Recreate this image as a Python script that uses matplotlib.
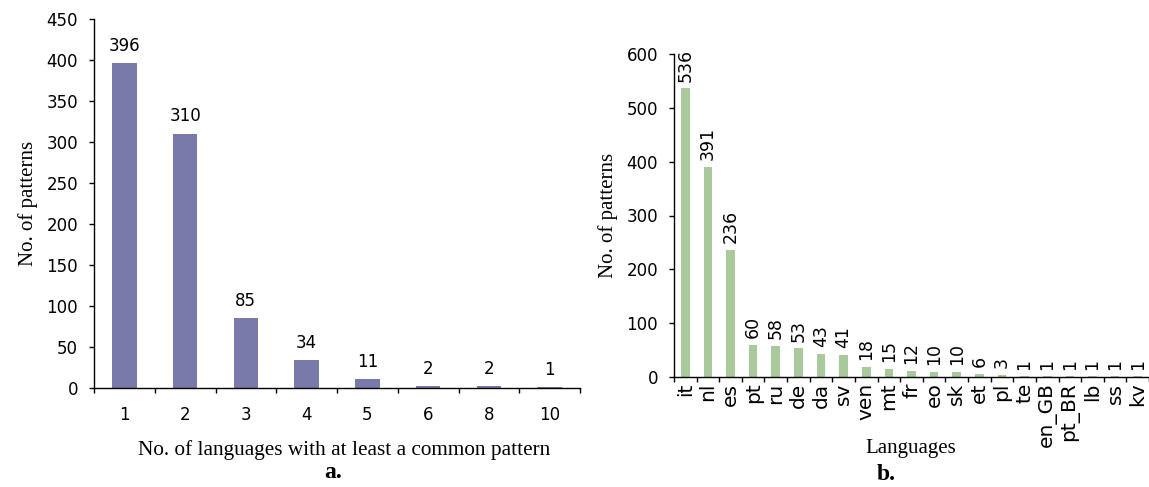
import numpy as np
import matplotlib
matplotlib.use("Agg")
import matplotlib.pyplot as plt

# panel a: how many patterns are shared by n languages
n_langs = ["1", "2", "3", "4", "5", "6", "8", "10"]
n_patterns_a = [396, 310, 85, 34, 11, 2, 2, 1]

# panel b: patterns per language
languages = ["it", "nl", "es", "pt", "ru", "de", "da", "sv", "ven", "mt", "fr",
             "eo", "sk", "et", "pl", "te", "en_GB", "pt_BR", "lb", "ss", "kv"]
n_patterns_b = [536, 391, 236, 60, 58, 53, 43, 41, 18, 15, 12,
                10, 10, 6, 3, 1, 1, 1, 1, 1, 1]

W, H = 1149, 487
fig = plt.figure(figsize=(W / 100, H / 100), dpi=100)

serif = "Liberation Serif"
sans = "DejaVu Sans"


def px_axes(x0, y0, x1, y1):
    '''Adds axes given pixel box (left, top, right, bottom) from top-left corner.'''
    return fig.add_axes([x0 / W, 1 - y1 / H, (x1 - x0) / W, (y1 - y0) / H])


def style(ax):
    for s in ["top", "right"]:
        ax.spines[s].set_visible(False)
    for s in ["left", "bottom"]:
        ax.spines[s].set_linewidth(1.0)
    ax.tick_params(axis="y", direction="out", length=3.6, width=1.0, pad=8, labelsize=12)
    ax.tick_params(axis="x", which="major", length=0)
    ax.tick_params(axis="x", which="minor", direction="out", length=3.6, width=1.0)
    for lab in ax.get_yticklabels():
        lab.set_fontfamily(sans)


## Panel a
ax1 = px_axes(94, 19, 580, 388)
xa = np.arange(len(n_langs))
ax1.bar(xa, n_patterns_a, width=0.4, color="#7a7aaa")
ax1.set_xlim(-0.5, 7.25)
ax1.set_ylim(0, 450)
ax1.set_yticks(np.arange(0, 451, 50))
ax1.set_xticks(xa)
ax1.set_xticklabels(n_langs, fontsize=12, fontfamily=sans)
ax1.set_xticks(np.arange(-0.5, len(n_langs), 1), minor=True)
style(ax1)
ax1.tick_params(axis="x", which="major", pad=13)
for x, v in zip(xa, n_patterns_a):
    ax1.annotate(str(v), (x, v), xytext=(0, 6), textcoords="offset points",
                 ha="center", va="bottom", fontsize=12, fontfamily=sans)
ax1.set_ylabel("No. of patterns", fontsize=15, fontfamily=serif, labelpad=6)
fig.text(344 / W, 1 - 450 / H, "No. of languages with at least a common pattern",
         ha="center", va="center", fontsize=15.3, fontfamily=serif)
fig.text(333 / W, 1 - 472 / H, "a.", ha="center", va="center",
         fontsize=17, fontweight="bold", fontfamily=serif)

## Panel b
ax2 = px_axes(674, 54, 1149, 377)
xb = np.arange(len(languages))
ax2.bar(xb, n_patterns_b, width=0.38, color="#a9c89b")
ax2.set_xlim(-0.475, 20.04)
ax2.set_ylim(0, 600)
ax2.set_yticks(np.arange(0, 601, 100))
ax2.set_xticks(xb)
ax2.set_xticklabels(languages, fontsize=14.5, fontfamily=sans, rotation=90)
ax2.set_xticks(np.arange(-0.5, len(languages), 1), minor=True)
style(ax2)
ax2.tick_params(axis="x", which="major", pad=4)
for x, v in zip(xb, n_patterns_b):
    ax2.annotate(str(v), (x, v), xytext=(0, 5), textcoords="offset points",
                 ha="center", va="bottom", rotation=90, fontsize=12.5,
                 fontfamily=sans, annotation_clip=False)
ax2.set_ylabel("No. of patterns", fontsize=15, fontfamily=serif, labelpad=6)
fig.text(911 / W, 1 - 449 / H, "Languages", ha="center", va="center",
         fontsize=15, fontfamily=serif)
fig.text(886 / W, 1 - 475 / H, "b.", ha="center", va="center",
         fontsize=17, fontweight="bold", fontfamily=serif)

fig.savefig("out.png", dpi=100)
